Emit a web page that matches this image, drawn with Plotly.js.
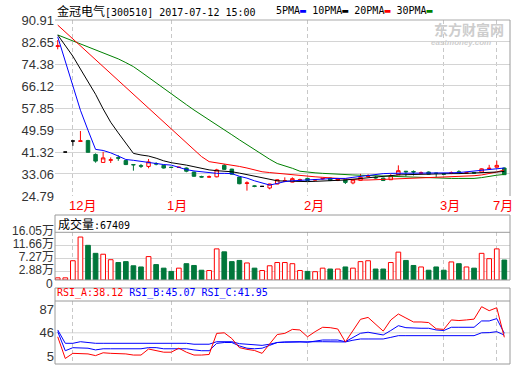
<!DOCTYPE html>
<html><head><meta charset="utf-8">
<script src="https://cdn.plot.ly/plotly-3.0.1.min.js"></script>
<style>html,body{margin:0;padding:0;background:#fff;}#chart{width:520px;height:365px;}</style>
</head><body><div id="chart"></div>
<script>
// ---------- data ----------
const monthLabels = ["12月", "1月", "2月", "3月", "7月"];
const monthIdx = [2, 15, 33, 51, 58];

const openP  = [81.0,41.3,45.45,45.3,45.6,40.4,37.4,38.2,39.2,38.1,36.6,36.2,35.9,37.0,36.3,35.6,35.5,35.3,33.8,32.1,31.9,32.0,36.3,34.9,31.9,29.5,28.6,28.4,27.8,29.3,30.3,30.0,30.7,31.4,30.8,31.2,31.5,30.6,30.9,29.7,30.7,32.1,31.8,31.5,30.9,32.8,34.1,34.0,33.3,33.8,33.4,33.2,33.3,33.9,33.4,33.6,33.8,35.0,35.6,35.3];
const highP  = [83.4,41.3,45.45,49.2,45.9,40.8,41.4,39.3,40.1,38.3,36.6,36.8,38.7,37.5,36.5,35.8,35.8,35.5,33.9,32.4,32.5,35.0,36.8,35.0,32.0,30.3,28.8,28.4,29.4,31.1,31.8,31.8,31.3,31.6,31.2,31.6,31.7,31.5,31.0,31.0,33.1,33.0,32.2,31.7,33.0,36.3,34.2,34.4,34.0,34.0,33.5,33.4,34.0,34.5,33.7,33.7,35.2,36.5,38.05,35.5];
const lowP   = [79.9,41.3,43.6,45.3,41.2,37.3,37.4,37.2,38.0,36.4,34.3,35.3,35.2,36.3,35.1,35.3,35.4,33.7,32.0,31.7,31.7,31.8,34.6,32.8,29.2,26.8,28.1,28.4,27.3,29.2,30.0,29.9,30.5,30.5,30.6,31.0,30.4,30.4,29.3,29.2,30.6,31.8,31.3,30.4,30.8,32.7,32.2,32.5,33.1,32.9,31.8,32.8,33.0,33.2,33.3,33.3,33.7,34.8,35.5,32.7];
const closeP = [81.2,41.3,45.45,45.5,41.2,37.9,39.1,38.4,39.0,36.6,36.5,36.0,37.6,36.8,35.3,35.5,35.6,34.1,32.2,31.9,32.0,34.6,34.8,33.0,29.4,29.7,28.4,28.4,29.3,30.9,30.5,31.3,30.9,30.6,30.9,31.4,30.6,31.3,29.9,30.9,31.8,32.3,31.6,30.6,32.4,34.3,33.9,33.8,33.5,33.0,33.3,33.0,33.5,33.7,33.5,33.4,35.0,35.2,36.3,32.8];

const ma5  = [84.6,75.5,66.2,57.0,49.5,42.3,41.9,41.0,39.8,38.5,38.2,37.8,37.2,37.0,36.6,36.4,35.6,34.7,34.2,33.9,33.5,33.3,33.3,33.2,32.2,31.5,30.5,29.8,28.9,29.5,30.2,30.5,30.7,30.8,31.0,31.2,31.3,31.4,31.4,31.8,32.2,32.6,33.0,33.2,33.3,33.3,33.4,33.5,33.5,33.5,33.4,33.4,33.5,33.6,33.9,34.3,34.5,34.9,35.2,35.3];
const ma10 = [85.3,81.3,77.3,72.5,68.0,63.0,57.5,52.5,48.5,44.5,40.8,40.2,39.8,39.0,38.0,37.3,36.9,36.4,35.8,35.2,34.6,34.3,34.1,33.9,33.4,32.8,32.3,31.6,31.0,30.5,30.4,30.3,30.2,30.2,30.3,30.4,30.5,30.6,30.8,31.1,31.4,31.7,32.0,32.3,32.5,32.7,32.8,32.9,33.0,33.0,33.1,33.1,33.2,33.2,33.3,33.3,33.4,33.6,33.8,34.0];
const ma20 = [89.0,86.4,83.8,81.2,78.6,76.0,73.4,70.8,68.2,65.6,63.0,60.4,57.8,55.2,52.6,50.0,47.4,44.8,42.2,39.6,37.7,37.3,36.9,36.4,35.9,35.3,34.6,33.9,33.6,33.3,33.1,32.7,32.4,32.2,32.0,31.8,31.6,31.3,31.0,30.9,30.8,30.8,30.9,31.0,31.1,31.3,31.4,31.5,31.6,31.7,31.8,31.9,32.0,32.1,32.2,32.4,32.7,33.2,33.8,34.6];
const ma30 = [85.3,84.2,83.1,82.0,80.9,79.8,78.7,77.6,76.3,74.9,73.4,71.4,69.3,67.3,65.3,63.2,61.2,59.1,57.1,55.3,53.4,51.5,49.7,47.8,45.9,44.0,42.2,40.5,38.6,37.0,36.2,35.2,34.1,33.7,33.5,33.3,33.1,33.0,32.9,32.7,32.6,32.5,32.3,32.2,32.0,31.9,31.8,31.7,31.6,31.5,31.5,31.4,31.4,31.4,31.4,31.4,31.7,32.2,32.6,32.9];

// volume in 万 (10k shares)
const volume = [0.73,0.73,6.5,14.5,11.7,9.0,8.7,6.85,5.9,6.2,4.8,4.4,7.9,5.2,4.0,2.9,4.0,5.5,4.9,3.3,3.2,10.5,9.5,6.2,6.6,5.75,4.0,3.2,4.8,5.9,5.9,5.5,3.2,2.9,2.8,4.0,3.7,3.7,4.4,4.0,6.2,6.5,3.7,3.7,5.9,9.4,6.6,4.9,4.4,3.3,4.4,3.3,6.1,5.5,4.4,4.0,9.0,7.2,10.5,6.7409];

const rsiA = [39,1,10,10,9,6,11,10,10,9,7,7,17.6,15,12,12,19,12,7,7,8,45,46,36,20,17,15,10,27,43,45,52,51,39,48,55.7,55,52.7,30,50,69.7,73,61,49,68.5,79,72,65,65,64,53,52,68.6,67.5,68.6,70,91.8,84.8,90,38.12];
const rsiB = [48,14.6,19.9,20,19,16,18,18,18,18,18,18,20,20,18,18,19,18,16,14.6,14.6,27.5,29,29,23,19,18,19,24,29,30,30.4,30.4,29.4,31,33.4,33.4,33.4,30.4,38,45.2,47,45,42.2,50,58.5,55,54,54,54,51,50,55.7,55.7,55.7,55.7,66.8,66.8,70.9,45.07];
const rsiC = [51,27.6,27.6,30.4,29,27.6,27.6,27.6,27.6,27.6,27.6,27.6,27.6,27.6,27.6,27.6,27.6,27.6,26,26,26,30.4,30.4,30.4,27,26,26,24,26,29,29.5,30,30.2,30,30.4,30.4,30.4,30.4,30,33,35.2,35.2,35.2,35.2,38,41,41,41,41,41,41,41,41,41,41,41,46,46.3,48,41.95];

const priceTicks = [24.79,33.06,41.32,49.59,57.85,66.12,74.38,82.65,90.91];
const volTicks = [0,2.88,7.27,11.66,16.05];
const volTickText = ["0","2.88万","7.27万","11.66万","16.05万"];
const rsiTicks = [5,46,87];

// ---------- drawing ----------
const RED = '#ff0000', GREEN = '#00773b', BLUE = '#0000ff';
const H = 365, L = 55, R = 510;
const px2x = px => (px - L) / (R - L);
const px2y = py => 1 - py / H;
const idx = openP.map((_, i) => i);
const isFlat = openP.map((o, i) => o === closeP[i]);
const pick = (arr, want) => arr.filter((_, i) => isFlat[i] === want);
const up = closeP.map((c, i) => c >= openP[i]);
const xRange = [-0.36, 59.75];

const traces = [
  {type:'candlestick', x:pick(idx,false), open:pick(openP,false), high:pick(highP,false), low:pick(lowP,false), close:pick(closeP,false),
   increasing:{line:{color:RED,width:1}, fillcolor:'#ffffff'}, decreasing:{line:{color:GREEN,width:1}, fillcolor:GREEN},
   whiskerwidth:0, xaxis:'x', yaxis:'y', hoverinfo:'skip'},
  {type:'candlestick', x:pick(idx,true), open:pick(openP,true), high:pick(highP,true), low:pick(lowP,true), close:pick(closeP,true),
   increasing:{line:{color:'#000',width:1}, fillcolor:'#000'}, decreasing:{line:{color:'#000',width:1}, fillcolor:'#000'},
   whiskerwidth:0, xaxis:'x', yaxis:'y', hoverinfo:'skip'},
  {type:'scatter', mode:'lines', x:idx, y:ma30, line:{color:'#008000', width:1}, xaxis:'x', yaxis:'y'},
  {type:'scatter', mode:'lines', x:idx, y:ma20, line:{color:RED, width:1}, xaxis:'x', yaxis:'y'},
  {type:'scatter', mode:'lines', x:idx, y:ma10, line:{color:'#000000', width:1}, xaxis:'x', yaxis:'y'},
  {type:'scatter', mode:'lines', x:idx, y:ma5, line:{color:BLUE, width:1}, xaxis:'x', yaxis:'y'},
  {type:'bar', x:idx, y:volume, width:0.62, xaxis:'x2', yaxis:'y2',
   marker:{color:up.map(u => u ? '#ffffff' : GREEN), line:{color:up.map(u => u ? RED : GREEN), width:1}}},
  {type:'scatter', mode:'lines', x:idx, y:rsiC, line:{color:BLUE, width:1}, xaxis:'x3', yaxis:'y3'},
  {type:'scatter', mode:'lines', x:idx, y:rsiB, line:{color:BLUE, width:1}, xaxis:'x3', yaxis:'y3'},
  {type:'scatter', mode:'lines', x:idx, y:rsiA, line:{color:RED, width:1}, xaxis:'x3', yaxis:'y3'}
];

const tickFont = {family:'Liberation Sans, Noto Sans CJK SC, sans-serif', size:13, color:'#333'};
const volFont = {family:'Liberation Sans, Noto Sans CJK SC, sans-serif', size:12, color:'#333'};
const xBase = {range:xRange, tickvals:monthIdx, showticklabels:false, ticks:'', showgrid:true,
  gridcolor:'#c8c8c8', griddash:'4px,3px', gridwidth:1, zeroline:false, showline:false, fixedrange:true};
const yBase = {ticks:'', zeroline:false, showline:false, tickfont:tickFont, fixedrange:true, gridcolor:'#d4d4d4', gridwidth:1};

const monoFont = {family:'DejaVu Sans Mono, monospace', size:10, color:'#000'};
const cjk = t => '<span style="font-family:Noto Sans CJK SC;font-size:12px">' + t + '</span>';
const annotations = [
  {xref:'paper', yref:'paper', x:px2x(55), y:px2y(10), xanchor:'left', yanchor:'middle', showarrow:false, font:monoFont,
   text: cjk('金冠电气') + '[300510] 2017-07-12 15:00'},
  {xref:'paper', yref:'paper', x:px2x(274), y:px2y(10), xanchor:'left', yanchor:'middle', showarrow:false, font:monoFont,
   text:'5PMA<span style="color:#0000ff">▬</span> 10PMA<span style="color:#000000">▬</span> 20PMA<span style="color:#ff0000">▬</span> 30PMA<span style="color:#008000">▬</span>'},
  {xref:'paper', yref:'paper', x:px2x(433), y:px2y(29), xanchor:'left', yanchor:'middle', showarrow:false, borderpad:0,
   font:{family:'Noto Sans CJK SC', size:14, color:'#cdcdcd', weight:'bold'}, text:'东方财富网'},
  {xref:'paper', yref:'paper', x:px2x(430), y:px2y(43), xanchor:'left', yanchor:'middle', showarrow:false, borderpad:0,
   font:{family:'Liberation Sans', size:8, color:'#cdcdcd', weight:'bold', style:'italic'}, text:'eastmoney.com'},
  {xref:'paper', yref:'paper', x:px2x(55.5), y:px2y(223.8), xanchor:'left', yanchor:'middle', showarrow:false, font:monoFont,
   text: cjk('成交量') + ':' + Math.round(volume[volume.length-1]*10000)},
  {xref:'paper', yref:'paper', x:px2x(55), y:px2y(293), xanchor:'left', yanchor:'middle', showarrow:false, font:monoFont,
   text:'<span style="color:#ff0000">RSI_A:' + rsiA[rsiA.length-1].toFixed(2) + '</span> ' +
        '<span style="color:#0000ff">RSI_B:' + rsiB[rsiB.length-1].toFixed(2) + '</span> ' +
        '<span style="color:#0000ff">RSI_C:' + rsiC[rsiC.length-1].toFixed(2) + '</span>'},
  // zero label of the volume axis, nudged just below the baseline as in the reference
  {xref:'paper', yref:'y2', x:px2x(53), y:volTicks[0], xanchor:'right', yanchor:'middle', yshift:-4, borderpad:0, borderwidth:0,
   showarrow:false, text:volTickText[0], font:volFont}
];
monthLabels.forEach((t, k) => annotations.push({
  xref:'x', yref:'paper', x:monthIdx[k], y:px2y(205.5), xanchor:'left', yanchor:'middle', xshift:-6,
  showarrow:false, text:t, font:{family:'Liberation Sans, Noto Sans CJK SC', size:13, color:RED}
}));

const border = '#9a9a9a';
const shapes = [
  {type:'line', xref:'paper', yref:'paper', x0:0, x1:1, y0:px2y(20), y1:px2y(20), line:{color:'#aaaaaa', width:1}},
  {type:'line', xref:'paper', yref:'paper', x0:1, x1:1, y0:px2y(20), y1:px2y(196), line:{color:border, width:1}},
  {type:'rect', xref:'paper', yref:'paper', x0:0, x1:1, y0:px2y(280), y1:px2y(215), line:{color:border, width:1}},
  {type:'line', xref:'paper', yref:'paper', x0:0, x1:1, y0:px2y(232.3), y1:px2y(232.3), line:{color:border, width:1}},
  {type:'rect', xref:'paper', yref:'paper', x0:0, x1:1, y0:px2y(364), y1:px2y(288), line:{color:border, width:1}},
  {type:'line', xref:'paper', yref:'paper', x0:0, x1:1, y0:px2y(301), y1:px2y(301), line:{color:border, width:1}},
  {type:'line', xref:'paper', yref:'y3', x0:0, x1:1, y0:rsiTicks[1], y1:rsiTicks[1], layer:'below', line:{color:'#d4d4d4', width:1}}
];

const layout = {
  width:520, height:365, margin:{l:55, r:10, t:0, b:0, pad:0},
  paper_bgcolor:'#ffffff', plot_bgcolor:'#ffffff', showlegend:false, hovermode:false,
  boxgap:0.34, boxmode:'overlay',
  xaxis:Object.assign({}, xBase, {anchor:'y', domain:[0,1], rangeslider:{visible:false}}),
  xaxis2:Object.assign({}, xBase, {anchor:'y2', domain:[0,1]}),
  xaxis3:Object.assign({}, xBase, {anchor:'y3', domain:[0,1]}),
  yaxis:Object.assign({}, yBase, {anchor:'x', domain:[px2y(196), px2y(20)], range:[priceTicks[0], priceTicks[priceTicks.length-1]],
    tickvals:priceTicks, ticktext:priceTicks.map(v => v.toFixed(2)), showgrid:true}),
  yaxis2:Object.assign({}, yBase, {anchor:'x2', domain:[px2y(280), px2y(232.3)], range:[0, 16.1],
    tickvals:volTicks.slice(1), ticktext:volTickText.slice(1), showgrid:true, tickfont:volFont, ticklabelshift:-2}),
  yaxis3:Object.assign({}, yBase, {anchor:'x3', domain:[px2y(364), px2y(301)], range:[-8.7, 101.8],
    tickvals:rsiTicks, ticktext:rsiTicks.map(String), showgrid:false}),
  annotations:annotations, shapes:shapes
};

Plotly.newPlot('chart', traces, layout, {displayModeBar:false, staticPlot:true});
</script></body></html>
